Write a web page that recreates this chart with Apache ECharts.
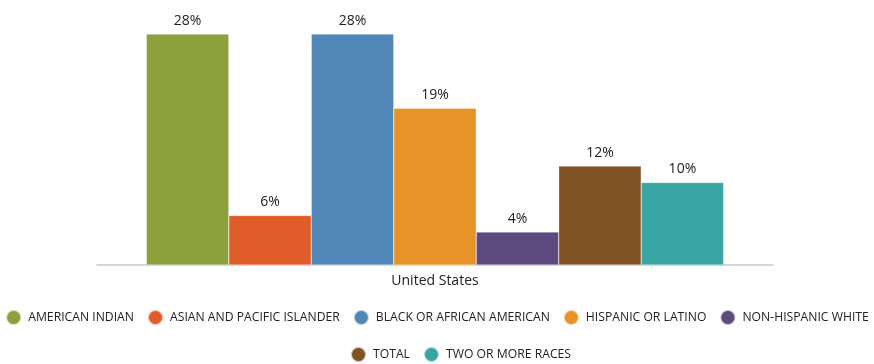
<!DOCTYPE html>
<html>
<head>
<meta charset="utf-8">
<script src="https://cdn.jsdelivr.net/npm/echarts@6/dist/echarts.min.js"></script>
<style>
  html, body { margin: 0; padding: 0; background: #fff; }
  #chart { width: 874px; height: 364px; }
</style>
</head>
<body>
<div id="chart"></div>
<script>
// Share of population by race/ethnicity, United States
const categories = ['United States'];
const seriesNames = [
  'AMERICAN INDIAN',
  'ASIAN AND PACIFIC ISLANDER',
  'BLACK OR AFRICAN AMERICAN',
  'HISPANIC OR LATINO',
  'NON-HISPANIC WHITE',
  'TOTAL',
  'TWO OR MORE RACES'
];
const seriesValues = [28, 6, 28, 19, 4, 12, 10];
const seriesColors = ['#8ca03c', '#e05c28', '#5087b6', '#e69327', '#5d4a7e', '#7f5123', '#3aa6a4'];

const fontFamily = '"Open Sans", "Noto Sans", sans-serif';

const chart = echarts.init(document.getElementById('chart'), null, { renderer: 'canvas' });

const series = seriesNames.map((name, i) => ({
  name: name,
  type: 'bar',
  data: [seriesValues[i]],
  barGap: '0%',
  barCategoryGap: '14.6%',
  itemStyle: { color: seriesColors[i], borderColor: 'rgba(255,255,255,0.6)', borderWidth: 0.5 },
  label: {
    show: true,
    position: 'top',
    distance: 6,
    formatter: '{c}%',
    color: '#222',
    fontSize: 14,
    fontFamily: fontFamily
  }
}));

const legendCommon = {
  orient: 'horizontal',
  icon: 'circle',
  itemWidth: 15,
  itemHeight: 15,
  itemGap: 13,
  padding: 0,
  width: 874,
  textStyle: { color: '#222', fontSize: 12.2, fontFamily: fontFamily, padding: [0, 0, 0, 2] }
};

chart.setOption({
  animation: false,
  grid: { left: 97, right: 101, top: 34, bottom: 99 },
  legend: [
    Object.assign({}, legendCommon, { data: seriesNames.slice(0, 5), left: 'center', top: 309 }),
    Object.assign({}, legendCommon, { data: seriesNames.slice(5), left: 350, top: 346 })
  ],
  xAxis: {
    type: 'category',
    data: categories,
    axisLine: { show: true, lineStyle: { color: '#c8c8c8', width: 1.5 } },
    axisTick: { show: false },
    axisLabel: { color: '#222', fontSize: 14, fontFamily: fontFamily, margin: 9 }
  },
  yAxis: {
    type: 'value',
    min: 0,
    max: 28,
    show: false,
    splitLine: { show: false }
  },
  series: series
});
</script>
</body>
</html>
